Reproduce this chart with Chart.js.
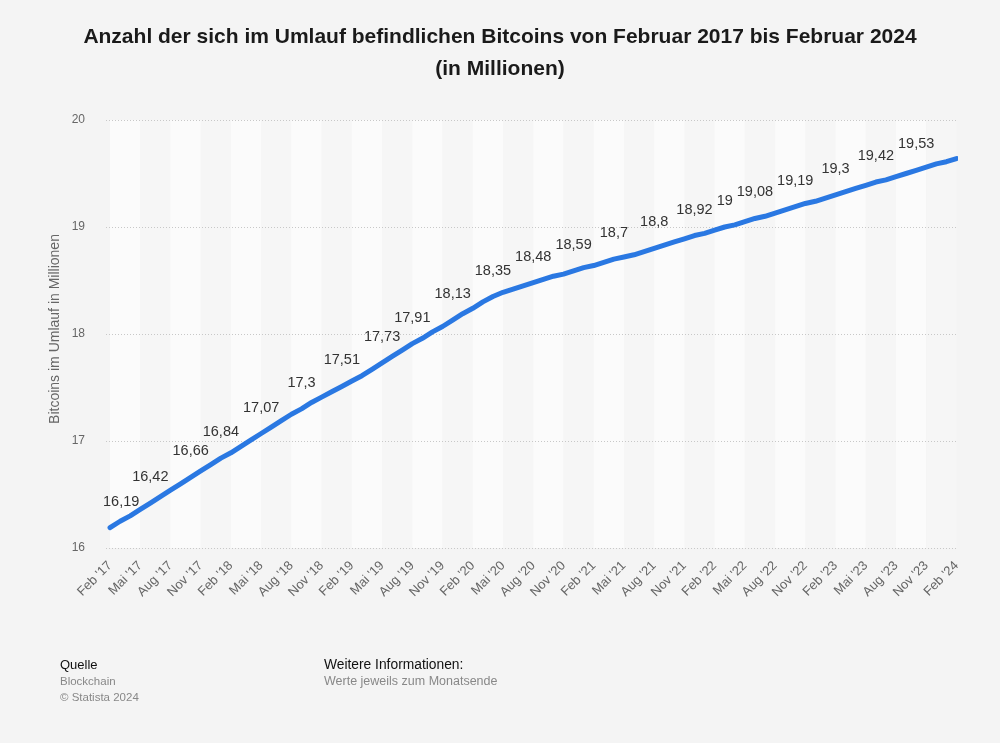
<!DOCTYPE html>
<html lang="de">
<head>
<meta charset="utf-8">
<title>Bitcoins im Umlauf</title>
<script src="https://cdn.jsdelivr.net/npm/chart.js@4.4.1/dist/chart.umd.min.js"></script>
<style>
  html, body { margin: 0; padding: 0; background: #f4f4f4; }
  body { width: 1000px; height: 743px; position: relative; overflow: hidden; font-family: 'Liberation Sans', Arial, sans-serif; }
  #wrap { position: absolute; left: 0; top: 0; width: 1000px; height: 743px; }
  .title { position: absolute; left: 0; width: 1000px; text-align: center; font-weight: bold; font-size: 21px; line-height: 24px; color: #1a1a1a; }
  .foot { position: absolute; font-size: 13px; line-height: 16px; }
  .foot b { font-weight: normal; color: #111; }
  .foot span { color: #888; font-size: 11.5px; }
</style>
</head>
<body>
<div id="wrap"><canvas id="chart"></canvas></div>
<div class="title" style="top:24px">Anzahl der sich im Umlauf befindlichen Bitcoins von Februar 2017 bis Februar 2024</div>
<div class="title" style="top:56px">(in Millionen)</div>
<div class="foot" style="left:60px; top:657px"><b>Quelle</b><br><span>Blockchain</span><br><span>© Statista 2024</span></div>
<div class="foot" style="left:324px; top:657px"><b style="font-size:13.8px">Weitere Informationen:</b><br><span style="font-size:12.5px">Werte jeweils zum Monatsende</span></div>
<script>
// Monate Feb 2017 - Feb 2024
const months = [
  "Feb '17", "Mär '17", "Apr '17", "Mai '17", "Jun '17", "Jul '17", "Aug '17", "Sep '17", "Okt '17", "Nov '17", "Dez '17",
  "Jan '18", "Feb '18", "Mär '18", "Apr '18", "Mai '18", "Jun '18", "Jul '18", "Aug '18", "Sep '18", "Okt '18", "Nov '18", "Dez '18",
  "Jan '19", "Feb '19", "Mär '19", "Apr '19", "Mai '19", "Jun '19", "Jul '19", "Aug '19", "Sep '19", "Okt '19", "Nov '19", "Dez '19",
  "Jan '20", "Feb '20", "Mär '20", "Apr '20", "Mai '20", "Jun '20", "Jul '20", "Aug '20", "Sep '20", "Okt '20", "Nov '20", "Dez '20",
  "Jan '21", "Feb '21", "Mär '21", "Apr '21", "Mai '21", "Jun '21", "Jul '21", "Aug '21", "Sep '21", "Okt '21", "Nov '21", "Dez '21",
  "Jan '22", "Feb '22", "Mär '22", "Apr '22", "Mai '22", "Jun '22", "Jul '22", "Aug '22", "Sep '22", "Okt '22", "Nov '22", "Dez '22",
  "Jan '23", "Feb '23", "Mär '23", "Apr '23", "Mai '23", "Jun '23", "Jul '23", "Aug '23", "Sep '23", "Okt '23", "Nov '23", "Dez '23",
  "Jan '24", "Feb '24"
]

// Bitcoins im Umlauf in Millionen (Monatsende)
const supply = [
  16.19, 16.25, 16.30, 16.36, 16.42, 16.48, 16.54, 16.60, 16.66, 16.72, 16.78,
  16.84, 16.89, 16.95, 17.01, 17.07, 17.13, 17.19, 17.25, 17.30, 17.36, 17.41, 17.46,
  17.51, 17.56, 17.61, 17.67, 17.73, 17.79, 17.85, 17.91, 17.96, 18.02, 18.07, 18.13,
  18.19, 18.24, 18.30, 18.35, 18.39, 18.42, 18.45, 18.48, 18.51, 18.54, 18.56, 18.59,
  18.62, 18.64, 18.67, 18.70, 18.72, 18.74, 18.77, 18.80, 18.83, 18.86, 18.89, 18.92,
  18.94, 18.97, 19.00, 19.02, 19.05, 19.08, 19.10, 19.13, 19.16, 19.19, 19.22, 19.24,
  19.27, 19.30, 19.33, 19.36, 19.39, 19.42, 19.44, 19.47, 19.50, 19.53, 19.56, 19.59,
  19.61, 19.64
]

// Punkte mit Wertbeschriftung
const labelIdx = [0, 4, 8, 11, 15, 19, 23, 27, 30, 34, 38, 42, 46, 50, 54, 58, 61, 64, 68, 72, 76, 80]

// x-Achse: jeder dritte Monat
const tickIdx = [0, 3, 6, 9, 12, 15, 18, 21, 24, 27, 30, 33, 36, 39, 42, 45, 48, 51, 54, 57, 60, 63, 66, 69, 72, 75, 78, 81, 84]

const yTicks = [16, 17, 18, 19, 20]

const fontFamily = "'Liberation Sans', Arial, sans-serif"

const stripes = {
  id: 'stripes',
  beforeDatasetsDraw(chart) {
    const { ctx, chartArea, scales } = chart
    ctx.save()
    for (let i = 0; i < tickIdx.length - 1; i++) {
      const x0 = scales.x.getPixelForValue(tickIdx[i])
      const x1 = scales.x.getPixelForValue(tickIdx[i + 1])
      ctx.fillStyle = i % 2 === 0 ? '#fbfbfb' : '#f6f6f6'
      ctx.fillRect(x0, chartArea.top, x1 - x0, chartArea.bottom - chartArea.top)
    }
    // gridlines on top of the stripes
    ctx.strokeStyle = '#c8c8c8'
    ctx.lineWidth = 1
    ctx.setLineDash([1, 2])
    yTicks.forEach((v) => {
      const y = Math.round(scales.y.getPixelForValue(v)) + 0.5
      ctx.beginPath()
      ctx.moveTo(chartArea.left, y)
      ctx.lineTo(chartArea.right, y)
      ctx.stroke()
    })
    ctx.restore()
  },
}

const valueLabels = {
  id: 'valueLabels',
  afterDatasetsDraw(chart) {
    const { ctx, chartArea } = chart
    const meta = chart.getDatasetMeta(0)
    ctx.save()
    ctx.font = `14.5px ${fontFamily}`
    ctx.fillStyle = '#333'
    ctx.textAlign = 'center'
    ctx.textBaseline = 'middle'
    labelIdx.forEach((i) => {
      const pt = meta.data[i]
      const text = String(supply[i]).replace('.', ',')
      const w = ctx.measureText(text).width
      let x = pt.x
      if (x - w / 2 < chartArea.left - 3) x = chartArea.left - 3 + w / 2
      ctx.fillText(text, x, pt.y - 26)
    })
    ctx.restore()
  },
}

const axisTitle = {
  id: 'axisTitle',
  afterDraw(chart) {
    const { ctx } = chart
    ctx.save()
    ctx.translate(55, 329)
    ctx.rotate(-Math.PI / 2)
    ctx.font = `14px ${fontFamily}`
    ctx.fillStyle = '#666'
    ctx.textAlign = 'center'
    ctx.textBaseline = 'middle'
    ctx.fillText('Bitcoins im Umlauf in Millionen', 0, 0)
    ctx.restore()
  },
}

new Chart(document.getElementById('chart'), {
  type: 'line',
  data: {
    datasets: [
      {
        label: 'Bitcoins im Umlauf',
        data: supply.map((v, i) => ({ x: i, y: v })),
        borderColor: '#2a78e2',
        borderWidth: 5,
        borderCapStyle: 'round',
        borderJoinStyle: 'round',
        pointRadius: 0,
        tension: 0,
        fill: false,
      },
    ],
  },
  options: {
    responsive: true,
    maintainAspectRatio: false,
    animation: false,
    layout: { padding: { top: 120, right: 42, left: 0, bottom: 0 } },
    plugins: {
      legend: { display: false },
      tooltip: { enabled: false },
    },
    scales: {
      x: {
        type: 'linear',
        min: -0.4,
        max: 84.15,
        afterBuildTicks: (scale) => {
          scale.ticks = tickIdx.map((v) => ({ value: v }))
        },
        afterFit: (scale) => {
          scale.height = 195
        },
        grid: { display: false, drawTicks: false },
        border: { display: false },
        ticks: {
          autoSkip: false,
          maxRotation: 45,
          minRotation: 45,
          padding: 10,
          color: '#666',
          font: { family: fontFamily, size: 13 },
          callback: (v) => months[v],
        },
      },
      y: {
        min: 16,
        max: 20,
        afterBuildTicks: (scale) => {
          scale.ticks = yTicks.map((v) => ({ value: v }))
        },
        afterFit: (scale) => {
          scale.width = 106
        },
        grid: { display: false, drawTicks: false },
        border: { display: false },
        ticks: {
          padding: 21,
          color: '#666',
          font: { family: fontFamily, size: 12 },
        },
      },
    },
  },
  plugins: [stripes, valueLabels, axisTitle],
})
</script>
</body>
</html>
